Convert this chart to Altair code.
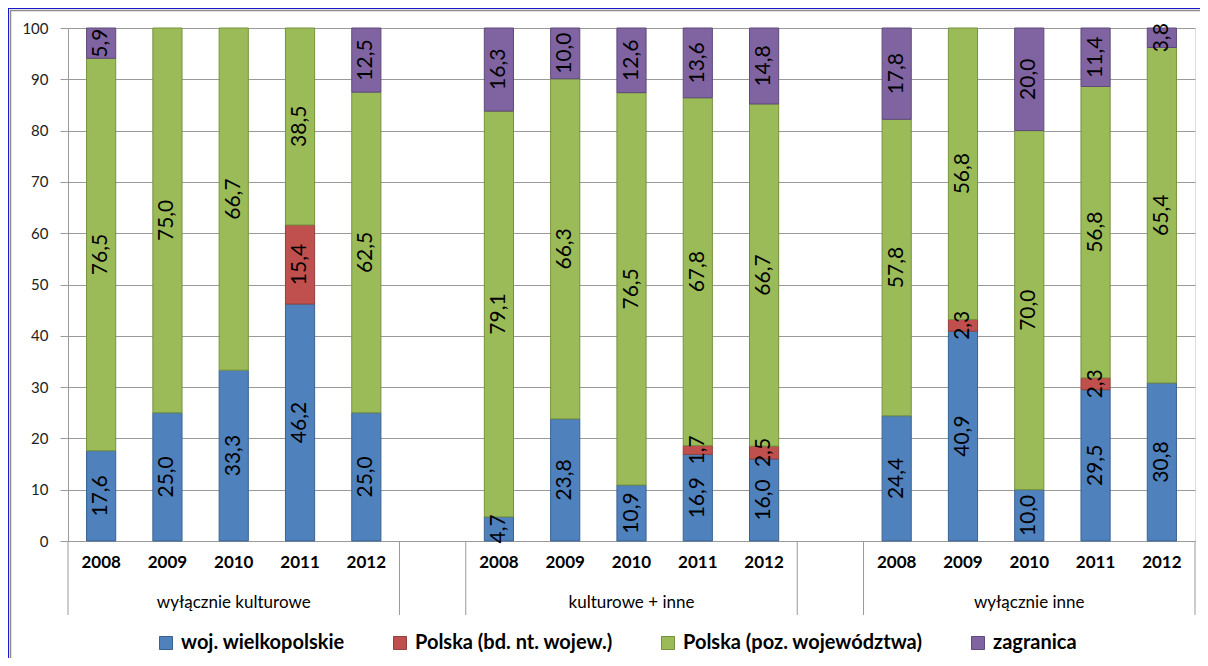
import altair as alt
import pandas as pd

# ---- data ----
years = ["2008", "2009", "2010", "2011", "2012"]
groups = ["wyłącznie kulturowe", "kulturowe + inne", "wyłącznie inne"]
categories = ["woj. wielkopolskie", "Polska (bd. nt. wojew.)",
              "Polska (poz. województwa)", "zagranica"]
colors = ["#4F81BD", "#C0504D", "#9BBB59", "#8064A2"]
strokes = ["#3A6291", "#94403D", "#76923F", "#5F4A7B"]

woj = [17.6, 25.0, 33.3, 46.2, 25.0, 4.7, 23.8, 10.9, 16.9, 16.0, 24.4, 40.9, 10.0, 29.5, 30.8]
bd = [0, 0, 0, 15.4, 0, 0, 0, 0, 1.7, 2.5, 0, 2.3, 0, 2.3, 0]
poz = [76.5, 75.0, 66.7, 38.5, 62.5, 79.1, 66.3, 76.5, 67.8, 66.7, 57.8, 56.8, 70.0, 56.8, 65.4]
zagr = [5.9, 0, 0, 0, 12.5, 16.3, 10.0, 12.6, 13.6, 14.8, 17.8, 0, 20.0, 11.4, 3.8]

n_slots = len(groups) * (len(years) + 1) - 1
slot_domain = list(range(n_slots))

rows = []
series = [woj, bd, poz, zagr]
for gi, g in enumerate(groups):
    for yi, yr in enumerate(years):
        idx = gi * len(years) + yi
        slot = gi * (len(years) + 1) + yi
        for ci, cat in enumerate(categories):
            v = series[ci][idx]
            if v > 0:
                rows.append({"slot": slot, "rok": yr, "grupa": g, "kat": cat,
                             "order": ci, "value": v,
                             "label": f"{v:.1f}".replace(".", ",")})
df = pd.DataFrame(rows)

group_df = pd.DataFrame({"slot": [gi * (len(years) + 1) + len(years) // 2 for gi in range(len(groups))],
                         "grupa": groups})
div_start = pd.DataFrame({"slot": [gi * (len(years) + 1) for gi in range(len(groups))] +
                          [gi * (len(years) + 1) + len(years) for gi in range(len(groups) - 1)]})
div_end = pd.DataFrame({"slot": [n_slots - 1]})

W, H = 1127, 513
FONT = "Lato"
PAD_IN = 0.56
PAD_OUT = PAD_IN / 2
STEP = W / n_slots
EDGE = STEP * PAD_OUT  # distance between slot edge and bar edge

year_list = "[" + ",".join(f"'{y}'" for y in years) + ",'']"
label_expr = f"{year_list}[datum.value % {len(years) + 1}]"

xscale = alt.Scale(domain=slot_domain, paddingInner=PAD_IN, paddingOuter=PAD_OUT)

base = alt.Chart(df).transform_stack(
    stack="value", groupby=["slot"], as_=["v0", "v1"],
    sort=[alt.SortField("order", order="ascending")]
).transform_calculate(mid="(datum.v0 + datum.v1) / 2")

bars = base.mark_bar(strokeWidth=1).encode(
    x=alt.X("slot:O", scale=xscale, title=None,
            axis=alt.Axis(labelExpr=label_expr, labelAngle=0, ticks=False,
                          labelFontWeight="bold", labelFontSize=17, labelFont=FONT,
                          labelColor="#000000", labelPadding=13,
                          domainColor="#9a9a9a", grid=False)),
    y=alt.Y("v0:Q", scale=alt.Scale(domain=[0, 100], clamp=True), title=None,
            axis=alt.Axis(values=list(range(0, 101, 10)), tickSize=8, tickColor="#9a9a9a",
                          gridColor="#9a9a9a", domainColor="#9a9a9a",
                          labelFontSize=15, labelFont=FONT, labelColor="#222222",
                          labelPadding=12)),
    y2="v1:Q",
    color=alt.Color("kat:N", scale=alt.Scale(domain=categories, range=colors), title=None,
                    legend=alt.Legend(orient="none", legendX=88, legendY=605,
                                      direction="horizontal", columns=4,
                                      symbolType="square", symbolSize=169,
                                      symbolStrokeWidth=1, labelFontSize=20,
                                      labelFont=FONT, labelFontWeight="bold",
                                      labelColor="#000000", labelOffset=5,
                                      labelLimit=0, columnPadding=45, padding=0)),
    stroke=alt.Stroke("kat:N", scale=alt.Scale(domain=categories, range=strokes), legend=None),
)

texts = base.mark_text(angle=270, fontSize=21, font=FONT, color="#000000",
                       align="center", baseline="middle").encode(
    x=alt.X("slot:O", scale=xscale),
    y=alt.Y("mid:Q"),
    text="label:N",
)

group_labels = alt.Chart(group_df).mark_text(fontSize=17, font=FONT, color="#000000",
                                             baseline="middle").encode(
    x=alt.X("slot:O", scale=xscale),
    y=alt.value(H + 62),
    text="grupa:N",
)

dividers_a = alt.Chart(div_start).mark_rule(color="#9a9a9a", xOffset=-EDGE).encode(
    x=alt.X("slot:O", scale=xscale, bandPosition=0),
    y=alt.value(H), y2=alt.value(H + 74),
)
dividers_b = alt.Chart(div_end).mark_rule(color="#9a9a9a", xOffset=EDGE).encode(
    x=alt.X("slot:O", scale=xscale, bandPosition=1),
    y=alt.value(H), y2=alt.value(H + 74),
)

one = pd.DataFrame({"k": [0]})
frame_h = alt.Chart(one).mark_rule(color="#1a1acc", strokeWidth=1).encode(
    x=alt.value(-60), x2=alt.value(W + 20), y=alt.value(-19.5))
frame_v = alt.Chart(one).mark_rule(color="#1a1acc", strokeWidth=1).encode(
    x=alt.value(-59.5), y=alt.value(-20), y2=alt.value(H + 140))
frame_h2 = alt.Chart(one).mark_rule(color="#8c8c8c", strokeWidth=1.5).encode(
    x=alt.value(-58), x2=alt.value(W + 20), y=alt.value(-17.5))
frame_v2 = alt.Chart(one).mark_rule(color="#8c8c8c", strokeWidth=1.5).encode(
    x=alt.value(-57.5), y=alt.value(-18), y2=alt.value(H + 140))

chart = alt.layer(
    frame_h, frame_v, frame_h2, frame_v2,
    bars, texts, group_labels, dividers_a, dividers_b
).properties(
    width=W, height=H,
    autosize=alt.AutoSizeParams(type="none"),
    padding={"left": 60, "top": 20, "right": 5, "bottom": 117},
).configure_view(
    fill="#e7e7e7", strokeWidth=0
).configure(background="#ffffff")

chart.save("out.html", embed_options={"renderer": "svg", "actions": False})
